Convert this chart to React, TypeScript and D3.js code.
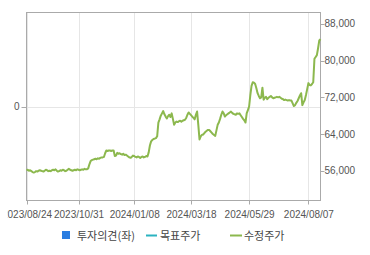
import React from "react";
import * as d3 from "d3";

// Adjusted close price (수정주가), one value per KRX trading day, 2023/08/24 .. 2024/08/22
const prices: number[] = [
  56100, 56200, 56000, 56100, 55900, 55700, 55600, 55700, 55900, 55800,
  56000, 56100, 56000, 55900, 55800, 56000, 56200, 56100, 55900, 56000,
  55900, 56100, 56200, 56100, 56300, 56000, 55800, 55900, 56100, 56000,
  56200, 56100, 55900, 56000, 56200, 56400, 56200, 56100, 56000, 56100,
  56200, 56100, 56300, 56200, 56100, 56200, 56300, 56200, 56400, 56300,
  56300, 56500, 57400, 58100, 58300, 58400, 58500, 58600, 58500, 58700,
  58600, 58800, 58900, 58900, 59000, 59800, 60400, 60300, 60400, 60400,
  60300, 60400, 60400, 59200, 59300, 59900, 59700, 59800, 59600, 59500,
  59700, 59400, 59500, 59300, 59100, 58900, 58800, 59000, 59300, 59200,
  59000, 58900, 59100, 59000, 58800, 59000, 59100, 58900, 59000, 59200,
  59100, 60000, 61500, 62400, 62700, 62900, 63000, 63100, 63500, 66500,
  67200, 68000, 68500, 69000, 68300, 67800, 67400, 67900, 68200, 67700,
  68500, 67300, 66000, 66500, 66700, 66600, 66800, 66900, 66700, 66900,
  67000, 67100, 67500, 68200, 68700, 68400, 68100, 67800, 67500, 67200,
  68200, 68900, 66000, 62800, 63500, 63800, 63900, 64200, 64500, 64700,
  64900, 64900, 64600, 64300, 64000, 63800, 63600, 64800, 66000, 66500,
  67300, 68200, 68900, 68500, 67800, 68100, 68300, 68500, 68700, 68900,
  68600, 68400, 68300, 68200, 68500, 68400, 68500, 68100, 67700, 67300,
  67000, 66500, 68500, 69200, 70000, 72500, 74500, 75300, 75200, 74900,
  74000, 72900, 72300, 71800, 72000, 74100, 71500, 71900, 72100, 71600,
  71900, 72100, 72300, 72000, 71800, 71900, 72000, 72100, 72000, 72100,
  71900, 71700, 71600, 71400, 71500, 71400, 71300, 71400, 71300, 71300,
  70700, 70100, 70300, 70800, 71200, 71800, 72400, 72900, 70300, 70900,
  71400, 72500, 73800, 75100, 74700, 74600, 74900, 75300, 80400, 80800,
  81200, 82700, 84400, 84700,
];

const startDate = "2023-08-24";
const holidays: string[] = [
  "2023-09-28", "2023-09-29", "2023-10-02", "2023-10-03", "2023-10-09",
  "2023-12-25", "2023-12-29", "2024-01-01", "2024-02-09", "2024-02-12",
  "2024-03-01", "2024-04-10", "2024-05-01", "2024-05-06", "2024-05-15",
  "2024-06-06", "2024-08-15",
];
const xTickLabels: string[] = [
  "2023/08/24", "2023/10/31", "2024/01/08", "2024/03/18", "2024/05/29", "2024/08/07",
];
const rightTicks: number[] = [56000, 64000, 72000, 80000, 88000];
const rightDomain: number[] = [49500, 90500];
const leftTicks: number[] = [0];
const leftDomain: number[] = [-1, 1];
const legendItems: string[] = ["투자의견(좌)", "목표주가", "수정주가"];

const fmtDay = d3.timeFormat("%Y/%m/%d");
const fmtKey = d3.timeFormat("%Y-%m-%d");

function tradingDays(n: number): string[] {
  const out: string[] = [];
  const hol = new Set(holidays);
  let d = d3.timeParse("%Y-%m-%d")(startDate) as Date;
  while (out.length < n) {
    const wd = d.getDay();
    if (wd !== 0 && wd !== 6 && !hol.has(fmtKey(d))) out.push(fmtDay(d));
    d = d3.timeDay.offset(d, 1);
  }
  return out;
}

export default function App() {
  const W = 370, H = 255;
  const L = 26.5, R = 320.5, T = 12.5, B = 200.5;
  const dates = tradingDays(prices.length);
  const x = d3.scaleLinear().domain([0, prices.length - 1]).range([L, R]);
  const yR = d3.scaleLinear().domain(rightDomain).range([B, T]);
  const yL = d3.scaleLinear().domain(leftDomain).range([B, T]);
  const line = d3.line<number>().x((_, i) => x(i)).y((v) => yR(v));
  const ticks = xTickLabels.map((lab) => ({ lab, i: dates.indexOf(lab) }));
  const grid = "#e6e6e6";
  const axis = "#aaaaaa";
  const txt = "#555555";
  const font = "'Liberation Sans', Arial, sans-serif";
  const kfont = "'Noto Sans CJK KR', 'Noto Sans', sans-serif";

  return (
    <svg width={W} height={H} style={{ position: "absolute", left: 0, top: 0, background: "#fff" }}>
      <defs>
        <clipPath id="xlab">
          <rect x={7.5} y={0} width={W} height={H} />
        </clipPath>
      </defs>
      {/* grid */}
      {ticks.map((t) => (
        <line key={"g" + t.lab} x1={Math.round(x(t.i)) + 0.5} x2={Math.round(x(t.i)) + 0.5} y1={T} y2={B} stroke={grid} />
      ))}
      {leftTicks.map((v) => (
        <line key={"gl" + v} x1={L} x2={R} y1={Math.round(yL(v)) + 0.5} y2={Math.round(yL(v)) + 0.5} stroke={grid} />
      ))}
      {/* frame */}
      <rect x={L} y={T} width={R - L} height={B - T} fill="none" stroke={axis} />
      {/* bottom ticks and labels */}
      <g clipPath="url(#xlab)">
        {ticks.map((t) => (
          <g key={"x" + t.lab}>
            <line x1={Math.round(x(t.i)) + 0.5} x2={Math.round(x(t.i)) + 0.5} y1={B} y2={B + 4} stroke={axis} />
            <text x={x(t.i) + 0.5} y={217.5} textAnchor="middle" fontSize={10} fontFamily={font} fill={txt}>
              {t.lab}
            </text>
          </g>
        ))}
      </g>
      {/* left axis */}
      {leftTicks.map((v) => (
        <g key={"l" + v}>
          <line x1={L - 5} x2={L} y1={Math.round(yL(v)) + 0.5} y2={Math.round(yL(v)) + 0.5} stroke={axis} />
          <text x={19.5} y={yL(v)} dy="0.35em" textAnchor="end" fontSize={10} fontFamily={font} fill={txt}>
            {d3.format(",")(v)}
          </text>
        </g>
      ))}
      {/* right axis */}
      {rightTicks.map((v) => (
        <g key={"r" + v}>
          <line x1={R} x2={R + 4} y1={Math.round(yR(v)) + 0.5} y2={Math.round(yR(v)) + 0.5} stroke={axis} />
          <text x={324.5} y={yR(v)} dy="0.35em" textAnchor="start" fontSize={10} fontFamily={font} fill={txt}>
            {d3.format(",")(v)}
          </text>
        </g>
      ))}
      {/* price line */}
      <path d={line(prices) || ""} fill="none" stroke="#8cb84e" strokeWidth={2} strokeLinejoin="round" />
      {/* legend */}
      <g>
        <rect x={62} y={231} width={8} height={8} fill="#2a7de1" />
        <text x={77} y={239.5} fontSize={11} fontFamily={kfont} fill="#444">{legendItems[0]}</text>
        <line x1={146} x2={157} y1={235.5} y2={235.5} stroke="#2bb3c0" strokeWidth={2} />
        <text x={160} y={239.5} fontSize={11} fontFamily={kfont} fill="#444">{legendItems[1]}</text>
        <line x1={230} x2={242} y1={235.5} y2={235.5} stroke="#8cb84e" strokeWidth={2} />
        <text x={244} y={239.5} fontSize={11} fontFamily={kfont} fill="#444">{legendItems[2]}</text>
      </g>
    </svg>
  );
}
